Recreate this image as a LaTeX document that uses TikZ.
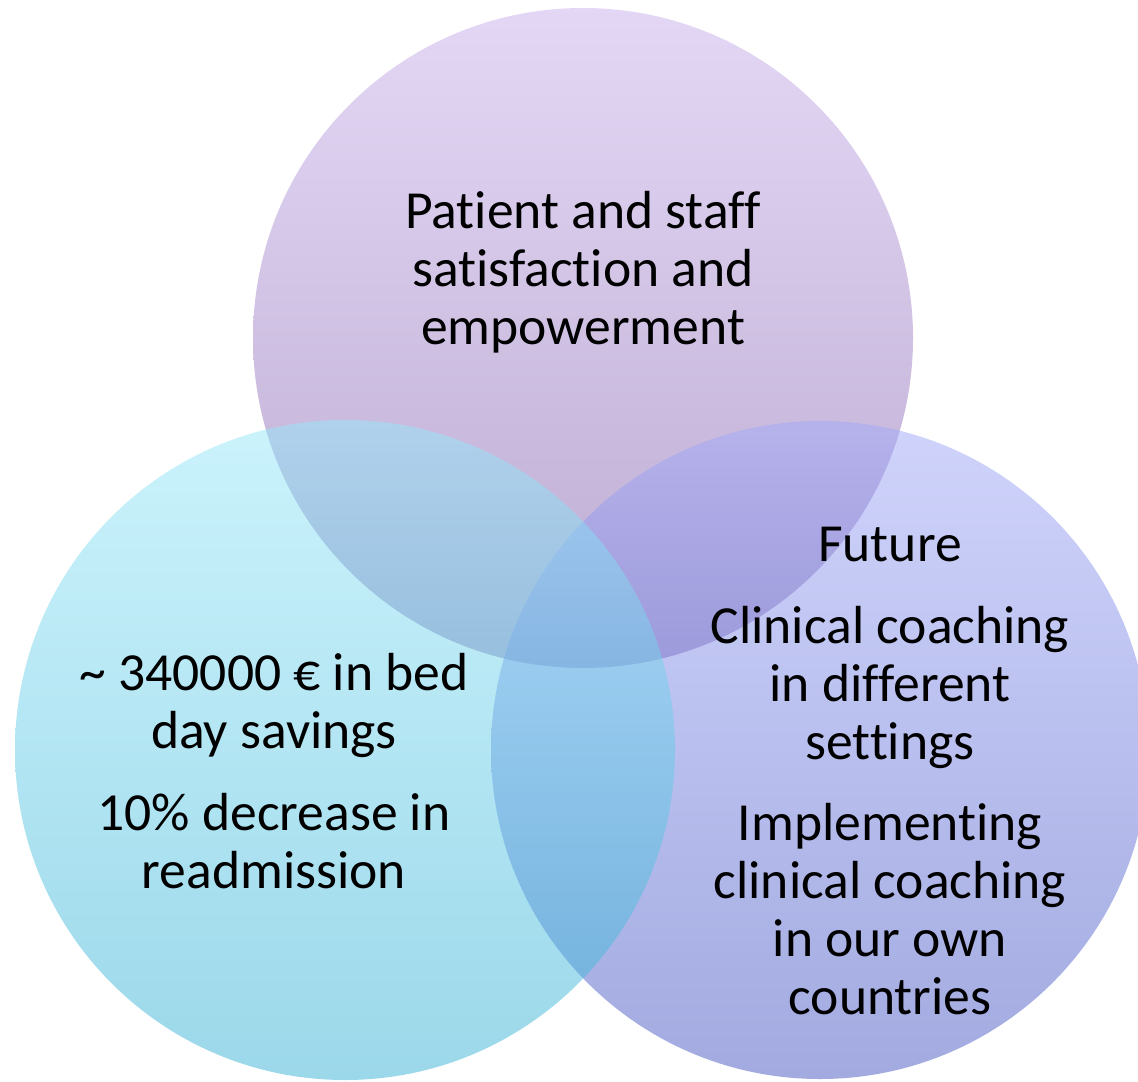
\documentclass[tikz,border=0pt]{standalone}
\usepackage{fontspec}
\setmainfont{Carlito}[Ligatures=CommonOff]
\usepackage{xcolor}
\usepackage{tikz}

\definecolor{top_t}{RGB}{201,175,235}
\definecolor{top_b}{RGB}{120,88,164}
\definecolor{left_t}{RGB}{151,231,249}
\definecolor{left_b}{RGB}{55,177,213}
\definecolor{right_t}{RGB}{161,169,249}
\definecolor{right_b}{RGB}{69,85,193}

\tikzset{
  venn/.style = {fill opacity=0.5, draw=none},
  venn_lbl/.style = {align=center, font=\fontsize{30.5}{33}\selectfont}
}

\begin{document}
\begin{tikzpicture}[x=0.02cm, y=-0.02cm]
\useasboundingbox (0,0) rectangle (1138,1081);

\coordinate (c_top) at (583,338);
\coordinate (c_left) at (345,750);
\coordinate (c_right) at (820,750);

% circles, the left one lies on top
\shade[venn, top color=top_t, bottom color=top_b] (c_top) circle (330);
\shade[venn, top color=right_t, bottom color=right_b] (c_right) circle (329);
\shade[venn, top color=left_t, bottom color=left_b] (c_left) circle (330);

\node[venn_lbl] (satisfy) at (583,272){Patient and staff\\satisfaction and\\empowerment};

\node[venn_lbl] (savings) at (274,771){\textasciitilde{} 340000 € in bed\\day savings\\[13.6pt]10\% decrease in\\readmission};

\node[venn_lbl] (future) at (890,771){Future\\[13.6pt]Clinical coaching\\in different\\settings\\[13.6pt]Implementing\\clinical coaching\\in our own\\countries};
\end{tikzpicture}
\end{document}
